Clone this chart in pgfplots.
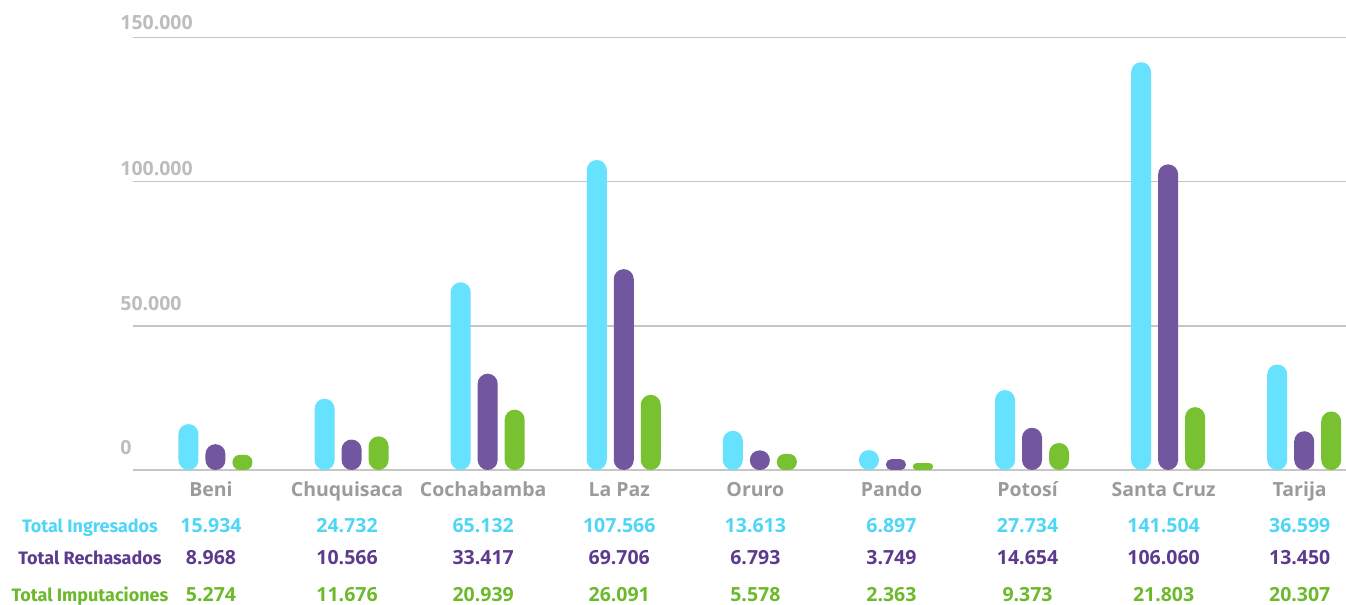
\documentclass[border=0pt]{standalone}
\usepackage{pgfplots}
\pgfplotsset{compat=1.18}
\usepackage{fontspec}
\setmainfont{Fira Sans}
\newfontfamily\numfont{Open Sans}
\definecolor{cbar}{HTML}{66E2FF}
\definecolor{pbar}{HTML}{7256A0}
\definecolor{gbar}{HTML}{78C232}
\definecolor{ctxt}{HTML}{4FD6F7}
\definecolor{ptxt}{HTML}{5C3B8E}
\definecolor{gtxt}{HTML}{6CB92B}
\definecolor{gridc}{HTML}{C6C6C6}
\definecolor{ylab}{HTML}{BDBDBD}
\definecolor{xlab}{HTML}{9B9B9B}
\tikzset{
  num/.style={anchor=base, inner sep=0pt, font=\numfont\fontsize{9.75}{11}\selectfont\bfseries},
  ylabel/.style={anchor=base west, inner sep=0pt, text=ylab, xshift=-6.5pt, font=\numfont\fontsize{9.75}{11}\selectfont\bfseries},
  rowlab/.style={anchor=base, inner sep=0pt, xshift=-21.5pt, font=\fontsize{9}{10}\selectfont\bfseries},
}
\begin{document}
\begin{tikzpicture}
\begin{axis}[
  at={(0,0)}, anchor=south west,
  scale only axis, width=606.5pt, height=216.15pt,
  xmin=-0.573, xmax=8.34, ymin=0, ymax=150000,
  ybar, bar width=10pt,
  scaled y ticks=false,
  axis line style={draw=none},
  ytick={0,50000,100000,150000},
  yticklabels={},
  ymajorgrids, grid style={gridc, line width=0.65pt},
  major tick length=0pt,
  xtick={0,...,8},
  xticklabels={Beni,Chuquisaca,Cochabamba,La Paz,Oruro,Pando,Potosí,Santa Cruz,Tarija},
  xticklabel style={anchor=base, inner sep=0pt, yshift=-13.5pt, text=xlab, font=\numfont\fontsize{9.75}{11}\selectfont\bfseries},
  clip=false,
  every axis plot/.append style={draw=none},
  cyan bars/.style={fill=cbar, bar shift=-11.25pt},
  purple bars/.style={fill=pbar, bar shift=2.25pt},
  green bars/.style={fill=gbar, bar shift=15.75pt},
]
% Total Ingresados
\addplot[cyan bars, rounded corners=5pt] coordinates {(0,15934) (1,24732) (2,65132) (3,107566) (4,13613) (6,27734) (7,141504) (8,36599)};
\addplot[cyan bars, rounded corners=4.85pt] coordinates {(5,6897)};
% Total Rechasados
\addplot[purple bars, rounded corners=5pt] coordinates {(0,8968) (1,10566) (2,33417) (3,69706) (6,14654) (7,106060) (8,13450)};
\addplot[purple bars, rounded corners=4.8pt] coordinates {(4,6793)};
\addplot[purple bars, rounded corners=2.6pt] coordinates {(5,3749)};
% Total Imputaciones
\addplot[green bars, rounded corners=5pt] coordinates {(1,11676) (2,20939) (3,26091) (6,9373) (7,21803) (8,20307)};
\addplot[green bars, rounded corners=3.7pt] coordinates {(0,5274)};
\addplot[green bars, rounded corners=3.9pt] coordinates {(4,5578)};
\addplot[green bars, rounded corners=1.6pt] coordinates {(5,2363)};
% y labels
\node[ylabel, yshift=7.5pt] at (axis cs:-0.573,0) {0};
\node[ylabel, yshift=7.5pt] at (axis cs:-0.573,50000) {50.000};
\node[ylabel, yshift=3pt] at (axis cs:-0.573,100000) {100.000};
\node[ylabel, yshift=4pt] at (axis cs:-0.573,150000) {150.000};
% row labels
\node[rowlab, text=ctxt, yshift=-31pt] at (axis cs:-0.573,0) {Total Ingresados};
\node[rowlab, text=ptxt, yshift=-47.5pt] at (axis cs:-0.573,0) {Total Rechasados};
\node[rowlab, text=gtxt, yshift=-66pt] at (axis cs:-0.573,0) {Total Imputaciones};
% table values
\node[num, text=ctxt, yshift=-31pt] at (axis cs:0,0) {15.934};
\node[num, text=ctxt, yshift=-31pt] at (axis cs:1,0) {24.732};
\node[num, text=ctxt, yshift=-31pt] at (axis cs:2,0) {65.132};
\node[num, text=ctxt, yshift=-31pt] at (axis cs:3,0) {107.566};
\node[num, text=ctxt, yshift=-31pt] at (axis cs:4,0) {13.613};
\node[num, text=ctxt, yshift=-31pt] at (axis cs:5,0) {6.897};
\node[num, text=ctxt, yshift=-31pt] at (axis cs:6,0) {27.734};
\node[num, text=ctxt, yshift=-31pt] at (axis cs:7,0) {141.504};
\node[num, text=ctxt, yshift=-31pt] at (axis cs:8,0) {36.599};
\node[num, text=ptxt, yshift=-47.5pt] at (axis cs:0,0) {8.968};
\node[num, text=ptxt, yshift=-47.5pt] at (axis cs:1,0) {10.566};
\node[num, text=ptxt, yshift=-47.5pt] at (axis cs:2,0) {33.417};
\node[num, text=ptxt, yshift=-47.5pt] at (axis cs:3,0) {69.706};
\node[num, text=ptxt, yshift=-47.5pt] at (axis cs:4,0) {6.793};
\node[num, text=ptxt, yshift=-47.5pt] at (axis cs:5,0) {3.749};
\node[num, text=ptxt, yshift=-47.5pt] at (axis cs:6,0) {14.654};
\node[num, text=ptxt, yshift=-47.5pt] at (axis cs:7,0) {106.060};
\node[num, text=ptxt, yshift=-47.5pt] at (axis cs:8,0) {13.450};
\node[num, text=gtxt, yshift=-66pt] at (axis cs:0,0) {5.274};
\node[num, text=gtxt, yshift=-66pt] at (axis cs:1,0) {11.676};
\node[num, text=gtxt, yshift=-66pt] at (axis cs:2,0) {20.939};
\node[num, text=gtxt, yshift=-66pt] at (axis cs:3,0) {26.091};
\node[num, text=gtxt, yshift=-66pt] at (axis cs:4,0) {5.578};
\node[num, text=gtxt, yshift=-66pt] at (axis cs:5,0) {2.363};
\node[num, text=gtxt, yshift=-66pt] at (axis cs:6,0) {9.373};
\node[num, text=gtxt, yshift=-66pt] at (axis cs:7,0) {21.803};
\node[num, text=gtxt, yshift=-66pt] at (axis cs:8,0) {20.307};
\end{axis}
\pgfresetboundingbox
\useasboundingbox (-66.5pt,-67.5pt) rectangle (606.5pt,235pt);
\end{tikzpicture}
\end{document}
